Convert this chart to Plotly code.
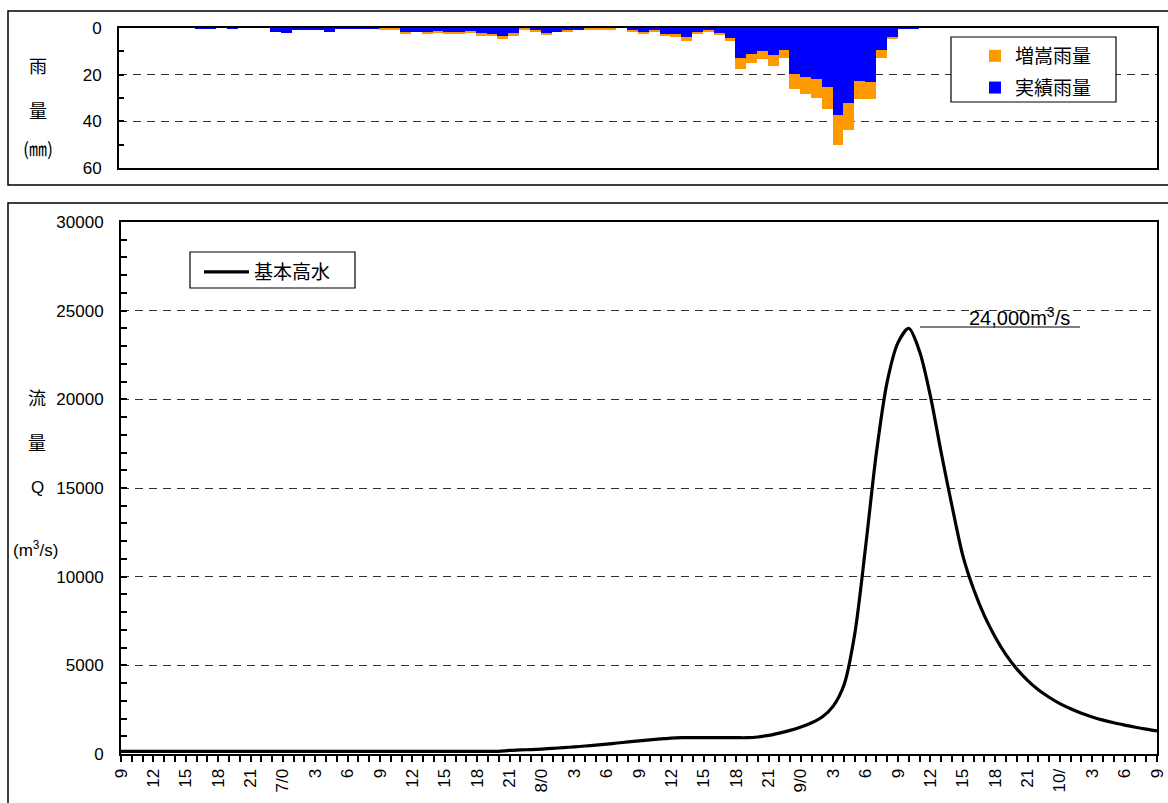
import plotly.graph_objects as go

W, H = 1168, 803

# ---------------- data ----------------
hours = list(range(97))  # 0 = 6th 9:00 ... 96 = 10th 9:00
tick_hours = list(range(0, 97, 3))
tick_labels = ["9", "12", "15", "18", "21", "7/0", "3", "6", "9", "12", "15", "18", "21",
               "8/0", "3", "6", "9", "12", "15", "18", "21", "9/0", "3", "6", "9", "12",
               "15", "18", "21", "10/", "3", "6", "9"]

# hourly rainfall (mm), bars 0..95
rain_actual = [0, 0, 0, 0, 0, 0, 0, 0.3, 0.3, 0, 0.3, 0, 0, 0, 1.6, 2.2, 0.9, 0.9, 0.9, 1.8,
               0.3, 0.3, 0.3, 0.3, 0, 0, 2.1, 1.9, 2.1, 1.7, 2.1, 2.1, 1.7, 2.2, 2.6, 3.5,
               2.2, 0.2, 1.1, 2.2, 1.8, 1.1, 0.9, 0, 0, 0, 0, 1.1, 1.8, 1.1, 2.6, 2.6, 3.9,
               1.8, 1.1, 2.2, 4.1, 12.9, 11.2, 9.9, 11.6, 9.4, 19.7, 21.0, 21.9, 25.3, 37.3,
               32.2, 22.7, 23.2, 9.4, 3.9, 0.4, 0.3, 0, 0, 0, 0, 0, 0, 0, 0, 0, 0, 0, 0, 0,
               0, 0, 0, 0, 0, 0, 0, 0, 0]
rain_increase = [0, 0, 0, 0, 0, 0, 0, 0, 0, 0, 0, 0, 0, 0, 0, 0, 0, 0, 0, 0,
                 0, 0, 0, 0, 0.5, 0.5, 0.6, 0, 0.6, 0.5, 0.6, 0.6, 0.5, 1.3, 0.8, 1.0,
                 1.3, 0.4, 0.7, 0.5, 0, 0.7, 0, 0.5, 0.5, 0.5, 0, 0.7, 0.5, 0.7, 0.8, 1.2, 1.8,
                 0.5, 0.7, 0.5, 1.3, 4.6, 3.8, 3.3, 4.7, 3.5, 6.5, 7.3, 8.1, 9.5, 12.9,
                 11.6, 7.8, 7.3, 3.5, 0.8, 0, 0, 0, 0, 0, 0, 0, 0, 0, 0, 0, 0, 0, 0, 0,
                 0, 0, 0, 0, 0, 0, 0, 0, 0]

# hourly discharge (m3/s), hours 0..96
flow = [150] * 36 + [
    200, 230, 250, 280, 320, 360, 400, 450, 500, 560, 620, 680, 740, 800, 850, 900,   # 36-51
    920, 920, 920, 920, 920, 920, 920,                                                # 52-58
    960, 1050, 1180, 1330, 1520, 1760, 2100, 2700, 3900, 6800, 11700, 17000, 21000,   # 59-71
    23200, 24000, 22700, 20200, 17000, 14000, 11200, 9300, 7800, 6600, 5600, 4800,    # 72-83
    4150, 3620, 3200, 2840, 2550, 2300, 2090, 1910, 1760, 1630, 1510, 1400, 1300]     # 84-96

rain_x = [h + 0.5 for h in range(96)]

# ---------------- figure ----------------
def px(x):
    return x / W

def py(y):
    return 1 - y / H

FONT_NUM = "Arial, Liberation Sans, sans-serif"
FONT_JP = "Noto Sans CJK JP, sans-serif"

fig = go.Figure()
fig.add_trace(go.Bar(x=rain_x, y=rain_actual, name="実績雨量", marker=dict(color="#0000FF", line=dict(width=0)),
                     width=1, xaxis="x", yaxis="y", legend="legend", legendrank=2, legendgroup="a"))
fig.add_trace(go.Bar(x=rain_x, y=rain_increase, name="増嵩雨量", marker=dict(color="#FF9900", line=dict(width=0)),
                     width=1, xaxis="x", yaxis="y", legend="legend", legendrank=1, legendgroup="b"))
fig.add_trace(go.Scatter(x=hours, y=flow, name="基本高水", mode="lines",
                         line=dict(color="black", width=3.2, shape="spline", smoothing=0.8),
                         xaxis="x2", yaxis="y2", legend="legend2"))

axis_common = dict(showline=True, linecolor="black", linewidth=2, mirror=True, zeroline=False,
                   automargin=False)

fig.update_layout(
    width=W, height=H,
    margin=dict(l=0, r=0, t=0, b=0, autoexpand=False),
    paper_bgcolor="white", plot_bgcolor="white",
    barmode="stack", bargap=0,
    font=dict(family=FONT_NUM, color="black", size=16),
    xaxis=dict(domain=[px(119), px(1157)], range=[0, 96], anchor="y", showticklabels=False, ticks="",
               showgrid=False, **axis_common),
    yaxis=dict(domain=[py(168), py(28)], range=[60, 0], anchor="x", tickvals=[0, 20, 40, 60],
               ticks="inside", ticklen=5, tickwidth=2, tickcolor="black",
               minor=dict(dtick=10, tick0=0, ticks="inside", ticklen=5, tickwidth=2, tickcolor="black", showgrid=False),
               showgrid=True, gridcolor="#333333", griddash="8px,6px", gridwidth=1,
               tickfont=dict(size=17, family=FONT_NUM), ticklabelstandoff=12, **axis_common),
    xaxis2=dict(domain=[px(121), px(1157)], range=[0, 96], anchor="y2", tickvals=tick_hours, ticktext=tick_labels,
                tickangle=-90, ticks="outside", ticklen=6, tickwidth=1.5, tickcolor="black",
                minor=dict(dtick=1, tick0=0, ticks="outside", ticklen=6, tickwidth=1.5, tickcolor="black", showgrid=False),
                showgrid=False, tickfont=dict(size=17, family=FONT_NUM), **axis_common),
    yaxis2=dict(domain=[py(754), py(222)], range=[0, 30000], anchor="x2", dtick=5000, tickformat="d",
                ticks="inside", ticklen=6, tickwidth=2, tickcolor="black",
                minor=dict(dtick=1000, ticks="inside", ticklen=6, tickwidth=2, tickcolor="black", showgrid=False),
                showgrid=True, gridcolor="#333333", griddash="8px,6px", gridwidth=1,
                tickfont=dict(size=17, family=FONT_NUM), ticklabelstandoff=12, **axis_common),
    legend=dict(x=px(975), y=py(37), xanchor="left", yanchor="top", bgcolor="rgba(0,0,0,0)",
                borderwidth=0, font=dict(family=FONT_JP, size=19), traceorder="grouped",
                tracegroupgap=4, itemwidth=30),
    legend2=dict(x=px(199), y=py(253), xanchor="left", yanchor="top", bgcolor="rgba(0,0,0,0)",
                 borderwidth=0, font=dict(family=FONT_JP, size=19), itemwidth=45),
    showlegend=True,
)

# outer boxes, legend boxes, peak underline
shapes = [
    dict(type="rect", xref="paper", yref="paper", x0=px(8), x1=px(1180), y0=py(185), y1=py(11),
         line=dict(color="black", width=1.5), fillcolor="rgba(0,0,0,0)", layer="below"),
    dict(type="rect", xref="paper", yref="paper", x0=px(8), x1=px(1180), y0=py(815), y1=py(203),
         line=dict(color="black", width=1.5), fillcolor="rgba(0,0,0,0)", layer="below"),
    dict(type="rect", xref="paper", yref="paper", x0=px(951), x1=px(1116), y0=py(102), y1=py(37),
         line=dict(color="black", width=1.2), fillcolor="white", layer="above"),
    dict(type="rect", xref="paper", yref="paper", x0=px(190), x1=px(355), y0=py(288), y1=py(252),
         line=dict(color="black", width=1.2), fillcolor="white", layer="above"),
    dict(type="line", xref="paper", yref="paper", x0=px(920), x1=px(1080), y0=py(327), y1=py(327),
         line=dict(color="black", width=1)),
]
fig.update_layout(shapes=shapes)

ann = []
def label(text, x, y, size=18, family=FONT_JP):
    ann.append(dict(text=text, x=px(x), y=py(y), xref="paper", yref="paper", showarrow=False,
                    xanchor="center", yanchor="middle", font=dict(size=size, family=family, color="black")))

label("雨", 38, 65)
label("量", 38, 110)
label("(㎜)", 38, 148)
label("流", 37, 397)
label("量", 37, 442)
label("Q", 37, 487, size=17, family=FONT_NUM)
label("(m<sup>3</sup>/s)", 35, 549, size=17, family=FONT_NUM)
label("24,000m<sup>3</sup>/s", 1019, 316, size=20, family=FONT_NUM)
fig.update_layout(annotations=ann)

fig.write_html("out.html")
